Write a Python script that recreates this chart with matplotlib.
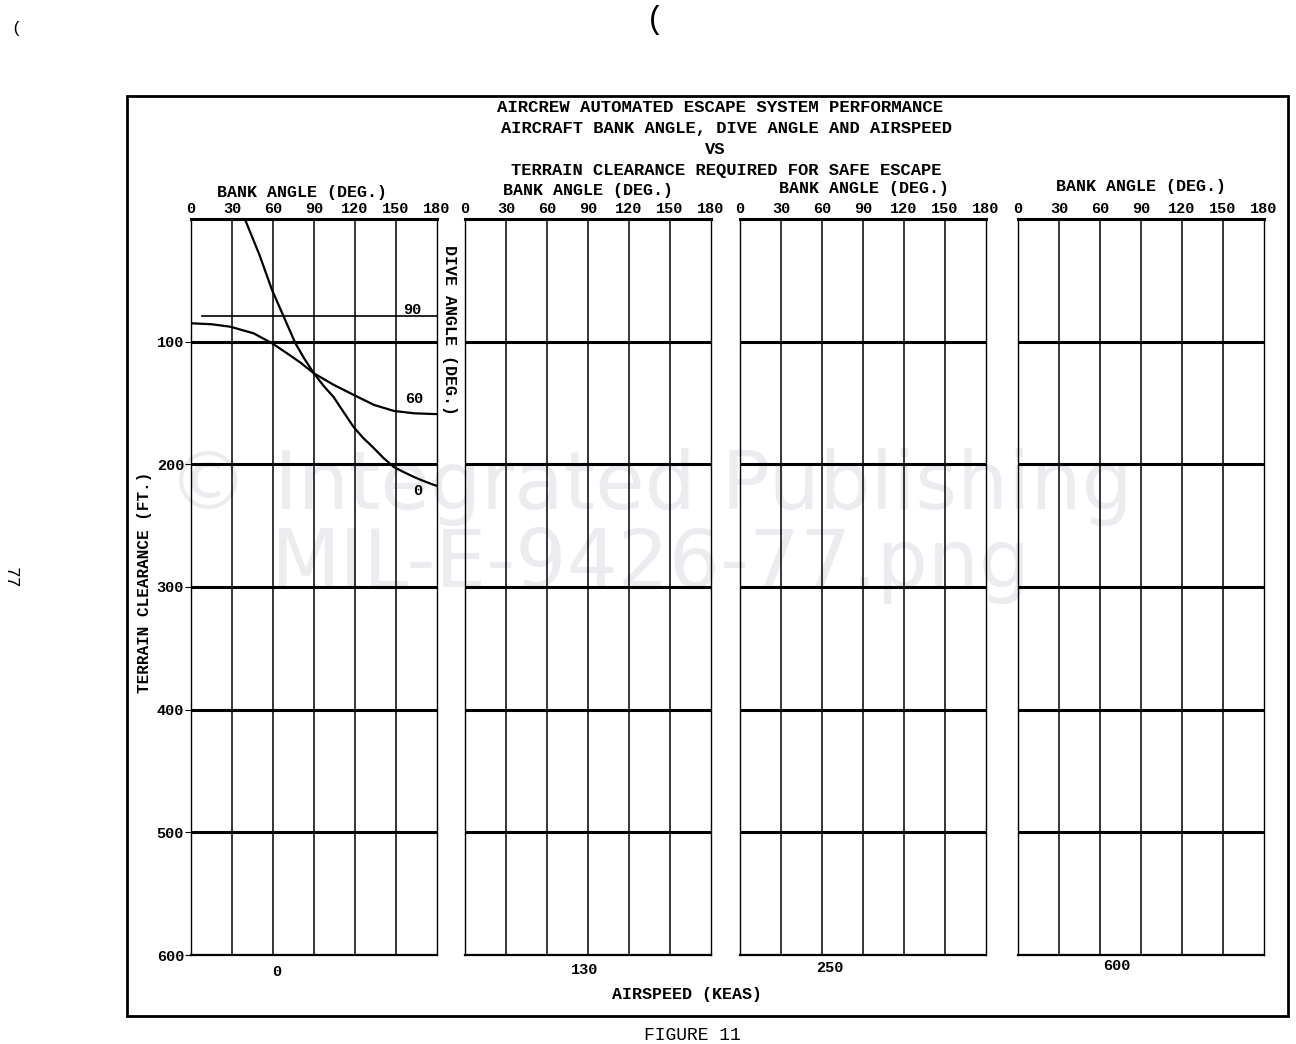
import numpy as np
import matplotlib
matplotlib.use('Agg')
from matplotlib import pyplot as plt
from matplotlib.patches import Rectangle

#-------------------------------------------------------------------------------
# data
#-------------------------------------------------------------------------------

bank_ticks = [0, 30, 60, 90, 120, 150, 180]
clear_ticks = [100, 200, 300, 400, 500, 600]
airspeeds = ['0', '130', '250', '600']

# dive angle 90 deg
bank_90 = [7.8, 180]
clear_90 = [79, 79]

# dive angle 60 deg
bank_60 = [0, 15, 28.7, 45.8, 59.3, 70.3, 80, 89.9, 104.6, 119.2, 134, 148.6,
           163.3, 178, 180]
clear_60 = [85, 85.8, 87.8, 93.2, 101.3, 109.5, 117, 125.8, 135.3, 143.5, 151.6,
            156.5, 158.4, 159, 159]

# dive angle 0 deg
bank_0 = [39.7, 50, 59.3, 68, 76.4, 83, 89.9, 97, 104.3, 112, 119, 126, 133.7,
          141, 148.4, 156, 163.1, 170, 177.8, 180]
clear_0 = [0.8, 29, 57.9, 80, 101.3, 114, 125.8, 136, 145.1, 158, 169.6, 178.5,
           186.7, 195, 202.2, 206.5, 210.3, 213.5, 216.8, 217.5]

#-------------------------------------------------------------------------------
# layout (pixels in a 1296 x 1044 figure)
#-------------------------------------------------------------------------------

W, H = 1296., 1044.
panel_left = [191, 465, 740, 1018]
panel_w = 246
panel_top = 219
panel_bot = 955

mono = 'Liberation Mono'

def fx(px): return px / W
def fy(py): return 1 - py / H

fig = plt.figure(figsize=(12.96, 10.44), dpi=100)

# outer frame
fig.patches.append(Rectangle((fx(127), fy(1016)), fx(1288) - fx(127),
                             fy(96) - fy(1016), transform=fig.transFigure,
                             fill=False, lw=2, ec='k'))

# watermark
fig.text(fx(650), fy(487), u'\u00a9 Integrated Publishing', ha='center',
         va='center', fontsize=58, color='#ececf0', family='DejaVu Sans',
         zorder=-5)
fig.text(fx(650), fy(565), 'MIL-E-9426-77.png', ha='center', va='center',
         fontsize=58, color='#ececf0', family='DejaVu Sans', zorder=-5)

label_x = [302, 588, 864, 1141]
label_y = [192, 190, 188, 186]
speed_y = [972, 970, 968, 966]
speed_x = [277, 585, 830, 1117]

axes = []
for i, left in enumerate(panel_left):
  ax = fig.add_axes([fx(left), fy(panel_bot), panel_w / W,
                     (panel_bot - panel_top) / H])
  ax.set_facecolor('none')
  ax.set_xlim(0, 180)
  ax.set_ylim(600, 0)
  for b in bank_ticks[1:-1]:
    ax.axvline(b, color='k', lw=1.1, zorder=1)
  for c in clear_ticks[:-1]:
    ax.axhline(c, color='k', lw=2.2, zorder=1)
  ax.xaxis.tick_top()
  ax.set_xticks(bank_ticks)
  ax.set_xticklabels([str(b) for b in bank_ticks], family=mono,
                     weight='bold', fontsize=11)
  ax.tick_params(axis='x', length=0, pad=2)
  ax.spines['top'].set_linewidth(2.2)
  ax.spines['bottom'].set_linewidth(1.6)
  ax.spines['left'].set_linewidth(1.0)
  ax.spines['right'].set_linewidth(1.0)
  if i == 0:
    ax.set_yticks(clear_ticks)
    ax.set_yticklabels([str(c) for c in clear_ticks], family=mono,
                       weight='bold', fontsize=11)
    ax.tick_params(axis='y', length=4, pad=1)
  else:
    ax.set_yticks([])
  fig.text(fx(label_x[i]), fy(label_y[i]), 'BANK ANGLE (DEG.)', ha='center',
           va='center', family=mono, weight='bold', fontsize=12)
  fig.text(fx(speed_x[i]), fy(speed_y[i]), airspeeds[i], ha='center',
           va='center', family=mono, weight='bold', fontsize=11)
  axes.append(ax)

# curves on the first panel
ax = axes[0]
ax.plot(bank_90, clear_90, color='k', lw=1.2, zorder=3)
ax.plot(bank_60, clear_60, color='k', lw=1.6, zorder=3)
ax.plot(bank_0, clear_0, color='k', lw=1.6, zorder=3)
ax.text(161.6, 74, '90', family=mono, weight='bold', fontsize=11,
        ha='center', va='center', zorder=4)
ax.text(163, 147, '60', family=mono, weight='bold', fontsize=11,
        ha='center', va='center', zorder=4)
ax.text(166, 222, '0', family=mono, weight='bold', fontsize=11,
        ha='center', va='center', zorder=4)

# titles
title = [('AIRCREW AUTOMATED ESCAPE SYSTEM PERFORMANCE', 720, 107, 12.5),
         ('AIRCRAFT BANK ANGLE, DIVE ANGLE AND AIRSPEED', 726, 128, 12.3),
         ('VS', 715, 150, 12.3),
         ('TERRAIN CLEARANCE REQUIRED FOR SAFE ESCAPE', 726, 170, 12.3)]
for s, x, y, size in title:
  fig.text(fx(x), fy(y), s, ha='center', va='center', family=mono,
           weight='bold', fontsize=size)

fig.text(fx(145), fy(582), 'TERRAIN CLEARANCE (FT.)', rotation=90,
         ha='center', va='center', family=mono, weight='bold', fontsize=11.5)
fig.text(fx(449), fy(330), 'DIVE ANGLE (DEG.)', rotation=-90,
         ha='center', va='center', family=mono, weight='bold', fontsize=12)
fig.text(fx(687), fy(995), 'AIRSPEED (KEAS)', ha='center', va='center',
         family=mono, weight='bold', fontsize=12)
fig.text(fx(692), fy(1036), 'FIGURE 11', ha='center', va='center',
         family=mono, fontsize=13)

# page margins
fig.text(fx(10), fy(578), '77', rotation=-90, ha='center', va='center',
         family=mono, fontsize=13)
fig.text(fx(16), fy(28), '(', ha='center', va='center', family=mono,
         fontsize=12)
fig.text(fx(655), fy(20), '(', ha='center', va='center', family=mono,
         fontsize=22)

fig.savefig('out.png', dpi=100)
